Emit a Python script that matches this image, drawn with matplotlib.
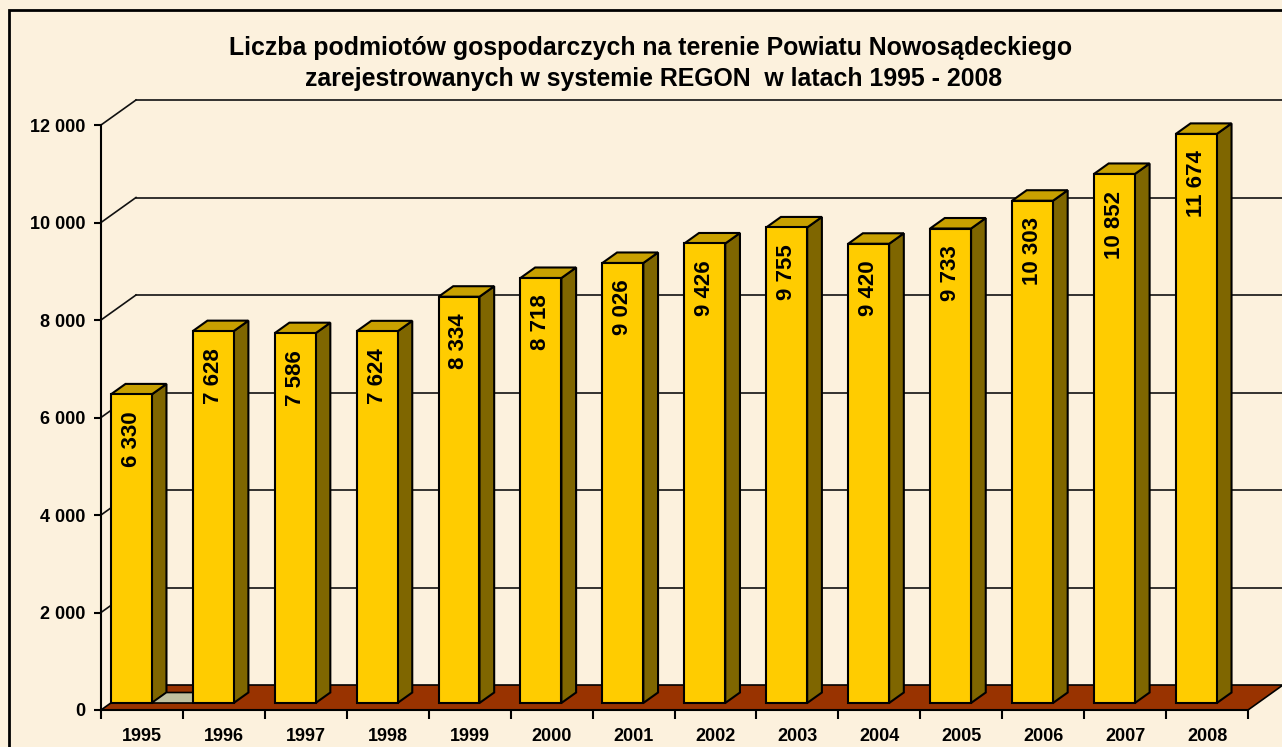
import matplotlib.pyplot as plt
from matplotlib.patches import Polygon, Rectangle
import numpy as np

# data
years = ['1995', '1996', '1997', '1998', '1999', '2000', '2001',
         '2002', '2003', '2004', '2005', '2006', '2007', '2008']
firms = [6330, 7628, 7586, 7624, 8334, 8718, 9026,
         9426, 9755, 9420, 9733, 10303, 10852, 11674]
# second (empty) series, only shows as a flat box in 1995
second = [0, None, None, None, None, None, None,
          None, None, None, None, None, None, None]
yticks = [0, 2000, 4000, 6000, 8000, 10000, 12000]

title1 = 'Liczba podmiotów gospodarczych na terenie Powiatu Nowosądeckiego'
title2 = 'zarejestrowanych w systemie REGON  w latach 1995 - 2008'

plt.rcParams['font.family'] = ['Liberation Sans', 'DejaVu Sans']
plt.rcParams['font.weight'] = 'bold'

W, H = 1282, 747
fig = plt.figure(figsize=(W / 100, H / 100), dpi=100)
fig.patch.set_facecolor('#FCF1DD')

# outer border of the chart area (right / bottom run off the picture)
fig.add_artist(Rectangle((9 / W, -0.05), 1.2, (H - 10) / H + 0.05,
                         transform=fig.transFigure, fill=False,
                         edgecolor='black', lw=2))

n = len(years)
ax = fig.add_axes([101 / W, 37 / H, 1147 / W, 585 / H])
ax.set_xlim(0, n)
ax.set_ylim(0, 12000)
ax.patch.set_visible(False)

# 3d depth of the plot box in data units
DX = 35 / (1147 / n)
DY = 25 / (585 / 12000)
f0, fd = 0.28, 0.42   # bar front depth and bar depth (fraction of box)

# back wall gridlines and left wall diagonals
for v in yticks[1:]:
    ax.plot([DX, n + DX], [v + DY, v + DY], color='#111111', lw=1.2,
            clip_on=False, zorder=1)
    ax.plot([0, DX], [v, v + DY], color='#111111', lw=1.2,
            clip_on=False, zorder=1)

# floor
ax.add_patch(Polygon([(0, 0), (n, 0), (n + DX, DY), (DX, DY)],
                     closed=True, facecolor='#993300', edgecolor='black',
                     lw=1.2, clip_on=False, zorder=1.5))

front = '#FFCC00'
side = '#7F6600'
top = '#C8A000'
base = f0 * DY
for i, v in enumerate(firms):
    z = 2 + i * 0.1
    xl = i + f0 * DX
    xr = xl + 0.5
    ax.bar(xl, v, width=0.5, bottom=base, align='edge', color=front,
           edgecolor='black', lw=1.5, zorder=z + 0.02, clip_on=False)
    ax.add_patch(Polygon([(xr, base), (xr, base + v),
                          (xr + fd * DX, base + v + fd * DY),
                          (xr + fd * DX, base + fd * DY)],
                         closed=True, facecolor=side, edgecolor='black',
                         lw=1.5, zorder=z, clip_on=False))
    ax.add_patch(Polygon([(xl, base + v), (xr, base + v),
                          (xr + fd * DX, base + v + fd * DY),
                          (xl + fd * DX, base + v + fd * DY)],
                         closed=True, facecolor=top, edgecolor='black',
                         lw=1.5, zorder=z + 0.01, clip_on=False))
    label = f'{v:,}'.replace(',', ' ')
    ax.annotate(label, (xl + 0.25, base + v), xytext=(0, -12),
                textcoords='offset points', rotation=90, ha='center',
                va='top', fontsize=16, fontweight='bold', zorder=z + 0.05)

    s = second[i]
    if s is not None:
        x2 = xr
        ax.add_patch(Polygon([(x2, base + s), (x2 + 0.5, base + s),
                              (x2 + 0.5 + fd * DX, base + s + fd * DY),
                              (x2 + fd * DX, base + s + fd * DY)],
                             closed=True, facecolor='#C0C0A0',
                             edgecolor='black', lw=1.2, zorder=z + 0.06,
                             clip_on=False))

# axes: front left edge and front floor edge
for sp in ['top', 'right']:
    ax.spines[sp].set_visible(False)
ax.spines['left'].set_linewidth(1.5)
ax.spines['bottom'].set_linewidth(1.5)
ax.spines['left'].set_zorder(1.6)
ax.spines['bottom'].set_zorder(1.6)

ax.set_yticks(yticks)
ax.set_yticklabels([f'{v:,}'.replace(',', ' ') for v in yticks])
ax.tick_params(axis='y', length=5, width=1.5, pad=6.5, labelsize=13)

ax.set_xticks(np.arange(n + 1))
ax.set_xticklabels([])
ax.set_xticks(np.arange(n) + 0.5, minor=True)
ax.set_xticklabels(years, minor=True)
ax.tick_params(axis='x', which='major', length=6.5, width=1.5)
ax.tick_params(axis='x', which='minor', length=0, pad=13, labelsize=13)
for t in ax.get_xticklabels(minor=True) + ax.get_yticklabels():
    t.set_fontweight('bold')

fig.text(651 / W, 1 - 48 / H, title1, ha='center', va='center',
         fontsize=17.9, fontweight='bold')
fig.text(654 / W, 1 - 79 / H, title2, ha='center', va='center',
         fontsize=17.9, fontweight='bold')

fig.savefig('out.png', dpi=100, facecolor=fig.get_facecolor())
